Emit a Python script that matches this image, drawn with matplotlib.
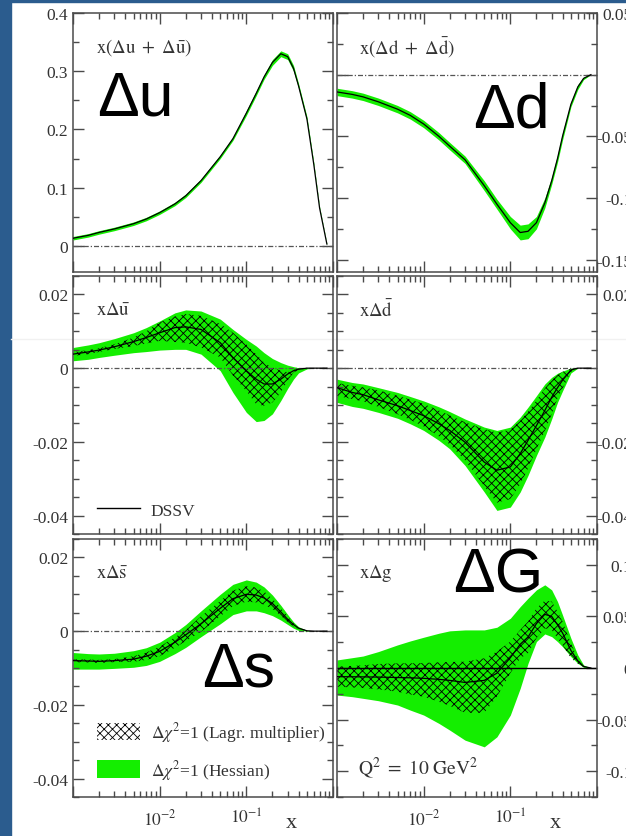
import numpy as np
import matplotlib
matplotlib.use("Agg")
import matplotlib.pyplot as plt
from matplotlib.patches import Patch, Rectangle
from matplotlib.lines import Line2D
from matplotlib.ticker import LogLocator, MultipleLocator, FuncFormatter, NullFormatter

plt.rcParams["font.family"] = ["Liberation Serif", "DejaVu Serif"]
plt.rcParams["mathtext.fontset"] = "stix"
plt.rcParams["axes.unicode_minus"] = False
plt.rcParams["hatch.linewidth"] = 0.6
plt.rcParams["hatch.color"] = "black"

## values (Q^2 = 10 GeV^2)
x = [0.001, 0.0015, 0.002, 0.003, 0.005, 0.007, 0.01, 0.015, 0.02, 0.03, 0.05, 0.07,
     0.1, 0.13, 0.16, 0.2, 0.25, 0.3, 0.35, 0.4, 0.5, 0.6, 0.7, 0.85]

# x(du + dubar)
du = [0.013, 0.018, 0.023, 0.029, 0.038, 0.046, 0.057, 0.072, 0.086, 0.112, 0.153, 0.184,
      0.228, 0.262, 0.290, 0.315, 0.330, 0.325, 0.305, 0.275, 0.218, 0.140, 0.065, 0.003]
du_err = [0.003, 0.003, 0.003, 0.003, 0.003, 0.003, 0.003, 0.003, 0.003, 0.003, 0.003, 0.003,
          0.004, 0.004, 0.004, 0.005, 0.005, 0.005, 0.005, 0.004, 0.004, 0.003, 0.002, 0.001]

# x(dd + ddbar)
dd = [-0.014, -0.016, -0.018, -0.022, -0.028, -0.033, -0.040, -0.050, -0.058, -0.069, -0.090, -0.105,
      -0.120, -0.128, -0.127, -0.120, -0.104, -0.086, -0.068, -0.050, -0.024, -0.010, -0.003, 0.0]
dd_err = [0.003, 0.003, 0.003, 0.003, 0.003, 0.003, 0.003, 0.003, 0.003, 0.003, 0.004, 0.004,
          0.005, 0.006, 0.006, 0.005, 0.004, 0.003, 0.003, 0.003, 0.002, 0.002, 0.001, 0.0]

# x ubar
ub = [0.0038, 0.0044, 0.0049, 0.0058, 0.0072, 0.0083, 0.0096, 0.0110, 0.0112, 0.0105, 0.0069, 0.0029,
      -0.0007, -0.0030, -0.0043, -0.0043, -0.0030, -0.0016, -0.0007, -0.0003, 0.0, 0.0, 0.0, 0.0]
ub_hess_lo = [0.0020, 0.0024, 0.0029, 0.0035, 0.0042, 0.0045, 0.0049, 0.0051, 0.0051, 0.0038, -0.0007, -0.0066,
              -0.0120, -0.0145, -0.0142, -0.0124, -0.0088, -0.0055, -0.0030, -0.0013, -0.0002, 0.0, 0.0, 0.0]
ub_hess_hi = [0.0056, 0.0063, 0.0069, 0.0080, 0.0096, 0.0110, 0.0128, 0.0150, 0.0158, 0.0155, 0.0133, 0.0105,
              0.0078, 0.0060, 0.0042, 0.0026, 0.0015, 0.0008, 0.0004, 0.0001, 0.0001, 0.0, 0.0, 0.0]
ub_lagr_lo = [0.0033, 0.0038, 0.0044, 0.0052, 0.0060, 0.0067, 0.0074, 0.0071, 0.0069, 0.0056, 0.0029, -0.0020,
              -0.0062, -0.0098, -0.0102, -0.0093, -0.0066, -0.0034, -0.0012, -0.0005, 0.0, 0.0, 0.0, 0.0]
ub_lagr_hi = [0.0043, 0.0049, 0.0054, 0.0065, 0.0083, 0.0100, 0.0124, 0.0140, 0.0147, 0.0142, 0.0120, 0.0096,
              0.0065, 0.0038, 0.0015, 0.0002, -0.0007, -0.0011, -0.0005, -0.0001, 0.0, 0.0, 0.0, 0.0]

# x dbar
db = [-0.0053, -0.0066, -0.0072, -0.0086, -0.0102, -0.0115, -0.0129, -0.0151, -0.0169, -0.0201, -0.0255, -0.0277,
      -0.0268, -0.0232, -0.0196, -0.0156, -0.0115, -0.0079, -0.0053, -0.0033, -0.0005, 0.0, 0.0, 0.0]
db_hess_hi = [-0.0030, -0.0039, -0.0043, -0.0053, -0.0066, -0.0077, -0.0089, -0.0105, -0.0118, -0.0138, -0.0160, -0.0169,
              -0.0160, -0.0133, -0.0106, -0.0075, -0.0043, -0.0025, -0.0014, -0.0008, 0.0, 0.0, 0.0, 0.0]
db_hess_lo = [-0.0093, -0.0104, -0.0109, -0.0120, -0.0136, -0.0151, -0.0169, -0.0196, -0.0219, -0.0264, -0.0336, -0.0386,
              -0.0377, -0.0336, -0.0291, -0.0237, -0.0187, -0.0138, -0.0093, -0.0062, -0.0013, 0.0, 0.0, 0.0]
db_lagr_hi = [-0.0040, -0.0048, -0.0052, -0.0060, -0.0075, -0.0085, -0.0097, -0.0115, -0.0128, -0.0147, -0.0165, -0.0175,
              -0.0167, -0.0143, -0.0118, -0.0088, -0.0055, -0.0033, -0.0019, -0.0010, -0.0001, 0.0, 0.0, 0.0]
db_lagr_lo = [-0.0075, -0.0084, -0.0090, -0.0105, -0.0125, -0.0140, -0.0158, -0.0185, -0.0207, -0.0250, -0.0320, -0.0365,
              -0.0355, -0.0315, -0.0272, -0.0220, -0.0170, -0.0125, -0.0082, -0.0055, -0.0010, 0.0, 0.0, 0.0]

# x sbar
sb = [-0.0080, -0.0081, -0.0082, -0.0080, -0.0076, -0.0068, -0.0055, -0.0030, -0.0010, 0.0020, 0.0062, 0.0088,
      0.0100, 0.0098, 0.0090, 0.0075, 0.0052, 0.0032, 0.0018, 0.0008, 0.0001, 0.0, 0.0, 0.0]
sb_hess_hi = [-0.0058, -0.0061, -0.0062, -0.0060, -0.0053, -0.0045, -0.0030, -0.0004, 0.0018, 0.0055, 0.0100, 0.0127,
              0.0139, 0.0133, 0.0120, 0.0098, 0.0070, 0.0045, 0.0025, 0.0012, 0.0002, 0.0, 0.0, 0.0]
sb_hess_lo = [-0.0103, -0.0103, -0.0103, -0.0101, -0.0098, -0.0093, -0.0082, -0.0061, -0.0044, -0.0015, 0.0020, 0.0045,
              0.0055, 0.0055, 0.0050, 0.0042, 0.0030, 0.0018, 0.0008, 0.0002, 0.0, 0.0, 0.0, 0.0]
sb_lagr_hi = [-0.0076, -0.0077, -0.0078, -0.0076, -0.0068, -0.0058, -0.0042, -0.0017, 0.0003, 0.0040, 0.0082, 0.0110,
              0.0122, 0.0118, 0.0108, 0.0088, 0.0062, 0.0040, 0.0022, 0.0010, 0.0001, 0.0, 0.0, 0.0]
sb_lagr_lo = [-0.0084, -0.0085, -0.0086, -0.0084, -0.0083, -0.0078, -0.0068, -0.0045, -0.0027, -0.0002, 0.0040, 0.0068,
              0.0080, 0.0078, 0.0072, 0.0060, 0.0042, 0.0025, 0.0013, 0.0005, 0.0001, 0.0, 0.0, 0.0]

# x g
g = [-0.0084, -0.0085, -0.0086, -0.0088, -0.0092, -0.0095, -0.0100, -0.0110, -0.0120, -0.0140, -0.0120, -0.0050,
     0.0100, 0.0230, 0.0300, 0.0430, 0.0520, 0.0500, 0.0420, 0.0340, 0.0170, 0.0070, 0.0015, 0.0]
g_hess_hi = [0.0078, 0.0100, 0.0116, 0.0159, 0.0224, 0.0262, 0.0298, 0.0337, 0.0360, 0.0369, 0.0369, 0.0395,
             0.0482, 0.0595, 0.0676, 0.0757, 0.0806, 0.0757, 0.0644, 0.0514, 0.0288, 0.0126, 0.0029, 0.0]
g_hess_lo = [-0.0262, -0.0278, -0.0294, -0.0317, -0.0359, -0.0408, -0.0456, -0.0537, -0.0602, -0.0699, -0.0764, -0.0667,
             -0.0456, -0.0197, 0.0045, 0.0256, 0.0330, 0.0304, 0.0256, 0.0207, 0.0110, 0.0045, 0.0007, 0.0]
g_lagr_hi = [0.0013, 0.0020, 0.0026, 0.0039, 0.0045, 0.0045, 0.0048, 0.0055, 0.0058, 0.0061, 0.0094, 0.0159,
             0.0256, 0.0369, 0.0450, 0.0579, 0.0654, 0.0644, 0.0547, 0.0450, 0.0240, 0.0090, 0.0020, 0.0]
g_lagr_lo = [-0.0181, -0.0188, -0.0194, -0.0207, -0.0230, -0.0256, -0.0278, -0.0327, -0.0366, -0.0434, -0.0434, -0.0278,
             -0.0051, 0.0094, 0.0142, 0.0288, 0.0385, 0.0369, 0.0288, 0.0223, 0.0094, 0.0040, 0.0010, 0.0]

titles = [r"$\mathrm{x(\Delta u\ +\ \Delta\bar{u})}$", r"$\mathrm{x(\Delta d\ +\ \Delta\bar{d})}$",
          r"$\mathrm{x\Delta\bar{u}}$", r"$\mathrm{x\Delta\bar{d}}$",
          r"$\mathrm{x\Delta\bar{s}}$", r"$\mathrm{x\Delta g}$"]
big_labels = ["Δu", "Δd", "Δs", "ΔG"]

GREEN = "#14ee00"
GREY = "#4a4a4a"
BLUE = "#2b5c8e"
FS = 12.5

x = np.array(x)

## FIGURE
fig = plt.figure(figsize=(6.26, 8.37), dpi=100)
fig.patches.append(Rectangle((0, 0), 11/626, 1, transform=fig.transFigure, color=BLUE, zorder=-5))
fig.patches.append(Rectangle((0, 1-3/837), 1, 3/837, transform=fig.transFigure, color=BLUE, zorder=-5))
# faint line left over from the slide
fig.add_artist(Line2D([11/626, 1], [1-340/837, 1-340/837], color="#f1f1f1", lw=1.0, zorder=-4))

W, H = 626, 837
cols = [73, 337]
rows = [(14, 273), (277, 535), (540, 798)]
axes = []
for r, (top, bot) in enumerate(rows):
    for c, left in enumerate(cols):
        ax = fig.add_axes([left/W, 1-bot/H, 260/W, (bot-top)/H])
        ax.patch.set_alpha(0)
        axes.append(ax)

ylims = [(-0.045, 0.4), (-0.16, 0.05), (-0.045, 0.025), (-0.045, 0.025), (-0.045, 0.025), (-0.125, 0.125)]
ymaj = [0.1, 0.05, 0.02, 0.02, 0.02, 0.05]
ymin = [0.05, 0.025, 0.005, 0.005, 0.005, 0.025]
hide_zero = [False, True, False, True, False, False]

def yfmt(hz):
    def f(v, pos):
        v = round(v, 6)
        if hz and v == 0:
            return ""
        return "%g" % v
    return f

def xfmt(v, pos):
    if abs(v - 0.01) < 1e-9:
        return r"$10^{-2}$"
    if abs(v - 0.1) < 1e-8:
        return r"$10^{-1}$"
    return ""

# bands: (center, hessian lo, hessian hi, lagrange lo, lagrange hi)
du_a = np.array(du); du_e = np.array(du_err)
dd_a = np.array(dd); dd_e = np.array(dd_err)
bands = [
    (du_a, du_a-du_e, du_a+du_e, None, None),
    (dd_a, dd_a-dd_e, dd_a+dd_e, None, None),
    (ub, ub_hess_lo, ub_hess_hi, ub_lagr_lo, ub_lagr_hi),
    (db, db_hess_lo, db_hess_hi, db_lagr_lo, db_lagr_hi),
    (sb, sb_hess_lo, sb_hess_hi, sb_lagr_lo, sb_lagr_hi),
    (g, g_hess_lo, g_hess_hi, g_lagr_lo, g_lagr_hi),
]

for i, ax in enumerate(axes):
    cen, hlo, hhi, llo, lhi = bands[i]
    ax.fill_between(x, hlo, hhi, color=GREEN, lw=0, zorder=1)
    if llo is not None:
        ax.fill_between(x, llo, lhi, facecolor="none", edgecolor="black", hatch="xxxx", lw=0, zorder=2)
    if i == 5:
        ax.axhline(0, color="black", lw=1.0, zorder=2.5)
    else:
        ax.axhline(0, color="#555555", lw=0.9, ls=(0, (4, 1.6, 1, 1.6)), zorder=2.5)
    ax.plot(x, cen, color="black", lw=0.9, zorder=3)

    ax.set_xscale("log")
    ax.set_xlim(0.001, 1.0)
    ax.set_ylim(*ylims[i])
    ax.xaxis.set_major_locator(LogLocator(base=10, numticks=10))
    ax.xaxis.set_minor_locator(LogLocator(base=10, subs=np.arange(2, 10), numticks=20))
    ax.xaxis.set_minor_formatter(NullFormatter())
    ax.yaxis.set_major_locator(MultipleLocator(ymaj[i]))
    ax.yaxis.set_minor_locator(MultipleLocator(ymin[i]))
    ax.yaxis.set_major_formatter(FuncFormatter(yfmt(hide_zero[i])))

    for s in ax.spines.values():
        s.set_color(GREY)
        s.set_linewidth(1.1)
    ax.tick_params(which="both", direction="in", top=True, right=True, color=GREY,
                   labelcolor="#333333", labelsize=FS, width=1.0)
    ax.tick_params(which="major", length=8)
    ax.tick_params(which="minor", length=4.5)
    ax.tick_params(axis="x", labelbottom=(i >= 4), pad=8)
    ax.xaxis.set_major_formatter(FuncFormatter(xfmt))
    if i % 2 == 0:
        ax.tick_params(axis="y", labelleft=True, labelright=False, pad=3.5)
    else:
        ax.tick_params(axis="y", labelleft=False, labelright=True, pad=25.5)

    ax.text(0.09 if i % 2 == 0 else 0.085, 0.87, titles[i], transform=ax.transAxes,
            fontsize=13.5, color="#333333", ha="left", va="center")

    if i >= 4:
        ax.set_xlabel("x", fontsize=16, color="#333333", va="center")
        ax.xaxis.set_label_coords(0.84, -0.097)

# legends
axes[2].legend([Line2D([], [], color="black", lw=1.0)], ["DSSV"], loc="lower left",
               bbox_to_anchor=(0.092, 0.06), borderaxespad=0, borderpad=0, frameon=False,
               handlelength=2.5, handletextpad=0.6, fontsize=FS, labelcolor="#333333")
axes[4].legend([Patch(facecolor="none", edgecolor="black", hatch="xxxx", lw=0),
                Patch(facecolor=GREEN, lw=0)],
               [r"$\Delta\chi^2$=1 (Lagr. multiplier)", r"$\Delta\chi^2$=1 (Hessian)"],
               loc="lower left", bbox_to_anchor=(0.092, 0.06), borderaxespad=0, borderpad=0,
               frameon=False, handlelength=2.5, handleheight=1.15, handletextpad=0.6,
               labelspacing=0.8, fontsize=FS, labelcolor="#333333")
axes[5].text(0.081, 0.116, r"$\mathrm{Q^2\ =\ 10\ GeV^2}$", transform=axes[5].transAxes,
             fontsize=14, color="#333333", ha="left", va="center")

# big slide labels
big_pos = [(97, 115), (473, 128), (202, 687), (453, 593)]
for lab, (px, py) in zip(big_labels, big_pos):
    fig.text(px/W, 1-py/H, lab, fontsize=45, family="Liberation Sans", color="black",
             ha="left", va="baseline", zorder=10)

# right-hand tick labels are right aligned
for ax in axes[1::2]:
    for t in ax.yaxis.get_majorticklabels():
        t.set_horizontalalignment("right")

fig.savefig("out.png", dpi=100)
plt.close(fig)
